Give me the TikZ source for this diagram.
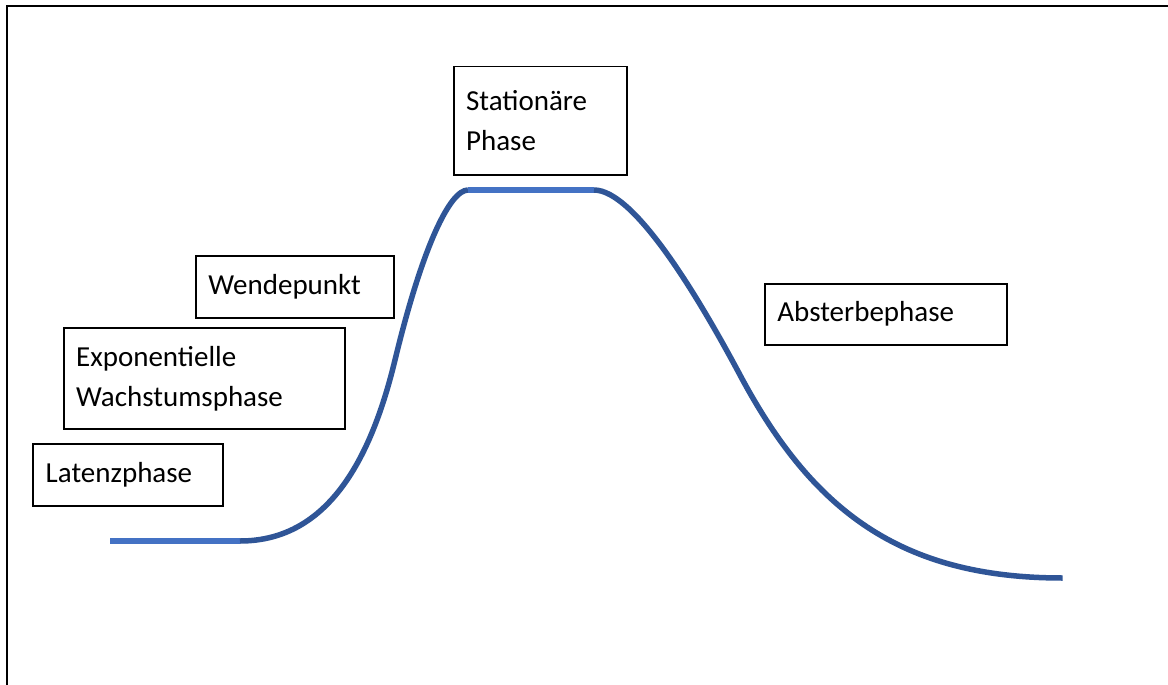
\documentclass[tikz,border=0pt]{standalone}
\usepackage{fontspec}
\setmainfont{Carlito}
\definecolor{lightblue}{HTML}{4472C4}
\definecolor{darkblue}{HTML}{2F5597}
\begin{document}
\begin{tikzpicture}[x=1pt,y=-1pt,
  box/.style={draw=black, line width=1.8pt, anchor=north west, align=left,
    inner xsep=12.5pt, inner ysep=0pt, font=\fontsize{29}{40}\selectfont},
  flat/.style={draw=lightblue, line width=5.5pt},
  curve/.style={draw=darkblue, line width=5.5pt}]
\useasboundingbox (0,0) rectangle (1168,685);
\fill[white] (0,0) rectangle (1168,685);
% frame
\draw[line width=2pt] (1168,6) -- (7,6) -- (7,686);
% boxes
\node[box, text width=148pt, minimum height=108.6pt] (stat) at (452.7,65.7) {Stationäre\\Phase};
\node[box, text width=173pt, minimum height=61.7pt] (wende) at (195,255) {Wendepunkt};
\node[box, text width=256pt, minimum height=100.4pt] (expo) at (62.7,327.3) {Exponentielle\\Wachstumsphase};
\node[box, text width=165pt, minimum height=61.7pt] (latenz) at (32.3,443.3) {Latenzphase};
\node[box, text width=217pt, minimum height=61.3pt] (abst) at (764,282.7) {Absterbephase};
% curve
\coordinate (l0) at (110,541);
\coordinate (l1) at (240,541);
\coordinate (w) at (395,360);
\coordinate (t0) at (468,190);
\coordinate (t1) at (594,190);
\coordinate (d) at (740,375);
\coordinate (e) at (1062.7,578);
\draw[flat] (l0) -- (l1);
\draw[curve] (l1) .. controls (330,541) and (372,455) .. (w)
  .. controls (422.6,246) and (450,190) .. (t0);
\draw[flat] (t0) -- (t1);
\draw[curve] (t1) .. controls (635,190) and (700,300) .. (d)
  .. controls (812,510) and (900,578) .. (e);
\end{tikzpicture}
\end{document}
